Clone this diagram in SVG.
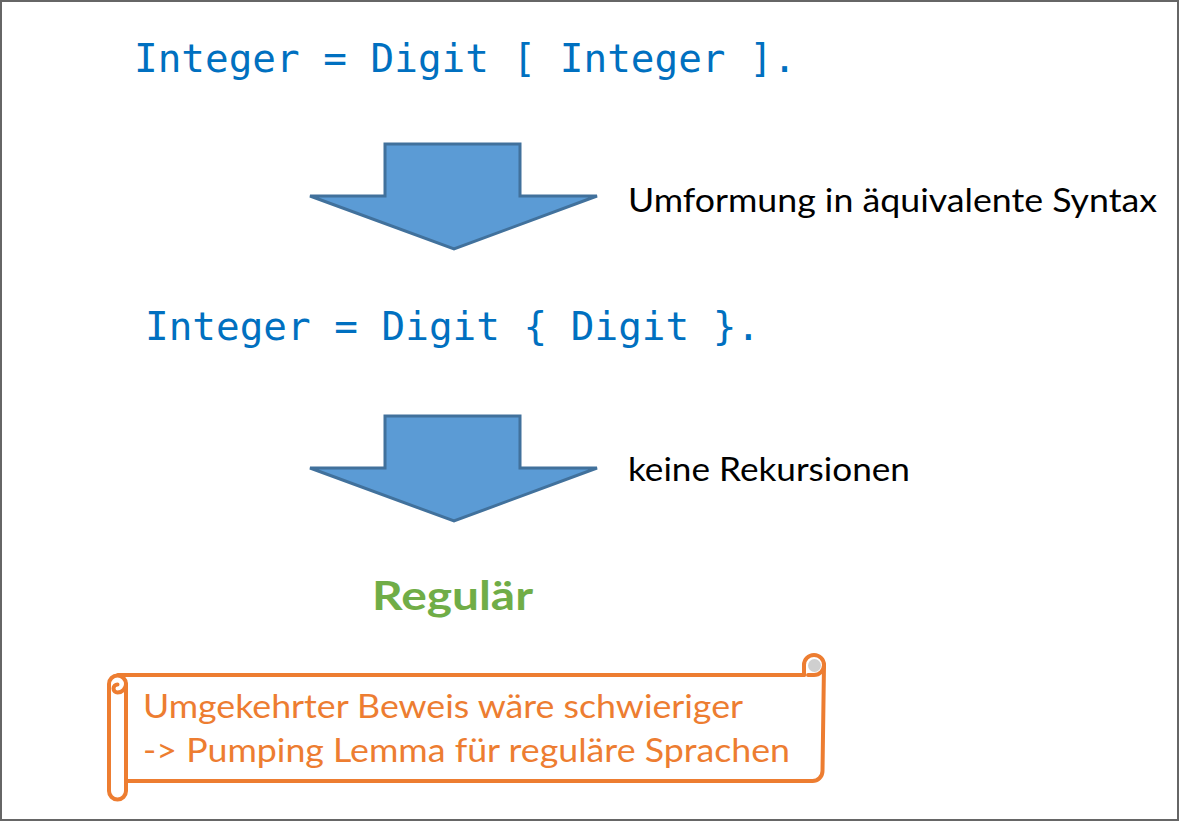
<svg xmlns="http://www.w3.org/2000/svg" width="1179" height="821" viewBox="0 0 1179 821">
<style>
.code{font-family:"DejaVu Sans Mono","Liberation Mono",monospace;fill:#0070C0;font-size:39.3px}
.lbl{font-family:Lato,"Open Sans","Liberation Sans",sans-serif;font-size:32px;fill:#000}
.note{font-family:Lato,"Open Sans","Liberation Sans",sans-serif;font-size:32px;fill:#ED7D31}
.res{font-family:Lato,"Open Sans","Liberation Sans",sans-serif;font-weight:bold;font-size:41px;fill:#70AD47}
.blk{fill:#5B9BD5;stroke:#41719C;stroke-width:3;stroke-linejoin:miter}
.scr{fill:none;stroke:#ED7D31;stroke-width:4;stroke-linejoin:round;stroke-linecap:round}
.shade{fill:#CFCFCF}
</style>
<rect x="1" y="1" width="1177" height="819" fill="#fff" stroke="#666" stroke-width="2"/>
<g id="rule1"><text class="code" x="134" y="72">Integer = Digit [ Integer ].</text></g>
<g id="rule2"><text class="code" x="145" y="340">Integer = Digit { Digit }.</text></g>
<g id="label1"><text class="lbl" x="628" y="212" textLength="529" lengthAdjust="spacingAndGlyphs">Umformung in äquivalente Syntax</text></g>
<g id="label2"><text class="lbl" x="628" y="481" textLength="282" lengthAdjust="spacingAndGlyphs">keine Rekursionen</text></g>
<g id="result"><text class="res" x="372" y="610" textLength="161" lengthAdjust="spacingAndGlyphs">Regulär</text></g>
<g id="connectors">
<polygon class="blk" points="385,144 520,144 520,196 597,196 454,249 310,196 385,196"/>
<polygon class="blk" points="385,416 520,416 520,468 597,468 454,521 310,468 385,468"/>
</g>
<g id="note">
<circle class="shade" cx="814.5" cy="665.5" r="6.5"/>
<path class="scr" d="M804,675 L804,665 A10,10 0 0 1 824,665 L822.5,771 A10,10 0 0 1 812,781 L127,781"/>
<path class="scr" d="M824,665 A10,10 0 0 1 814,675 L808,675"/>
<path class="scr" d="M804,675 L118,675"/>
<path class="shade" d="M119,677 A7,7 0 0 1 124,687 A4,4 0 0 0 119,677 Z"/>
<path class="scr" d="M109,684 A8.5,8.5 0 0 1 126,684 L126,791 A8.5,8.5 0 0 1 109,791 Z"/>
<path class="scr" d="M126,684 A8.5,8.5 0 0 1 117.5,692.5 A4,4 0 0 1 117.5,684.5"/>
<text class="note" x="143" y="718" textLength="600" lengthAdjust="spacingAndGlyphs">Umgekehrter Beweis wäre schwieriger</text>
<text class="note" x="143" y="762" textLength="647" lengthAdjust="spacingAndGlyphs">-&gt; Pumping Lemma für reguläre Sprachen</text>
</g>
</svg>
